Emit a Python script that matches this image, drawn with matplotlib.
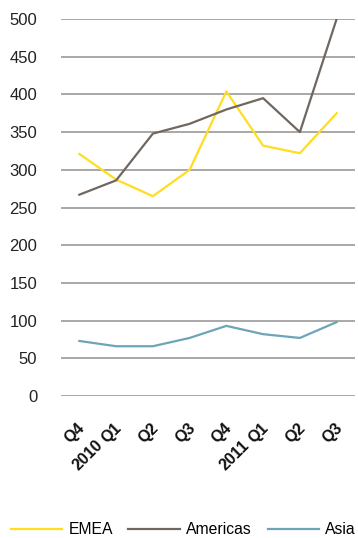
import matplotlib
matplotlib.use("Agg")
import matplotlib.pyplot as plt

# Quarterly figures by region
quarters = ["Q4\n2010", "Q1", "Q2", "Q3", "Q4\n2011", "Q1", "Q2", "Q3"]
emea = [321, 287, 265, 300, 404, 332, 322, 375]
americas = [267, 286, 348, 361, 380, 395, 350, 500]
asia = [73, 66, 66, 77, 93, 82, 77, 98]
y_ticks = [0, 50, 100, 150, 200, 250, 300, 350, 400, 450, 500]

plt.rcParams["font.family"] = ["Liberation Sans", "DejaVu Sans"]

fig = plt.figure(figsize=(3.58, 5.38), dpi=100)
ax = fig.add_axes([61 / 358, 1 - 396 / 538, 294 / 358, 377 / 538])

x = range(len(quarters))
ax.plot(x, emea, color="#FFDD1F", lw=1.6, label="EMEA", zorder=3)
ax.plot(x, americas, color="#706760", lw=1.6, label="Americas", zorder=3)
ax.plot(x, asia, color="#6EA4B8", lw=1.6, label="Asia", zorder=3)

ax.set_xlim(-0.5, len(quarters) - 0.5)
ax.set_ylim(0, 500)
ax.set_yticks(y_ticks)
ax.set_yticklabels([str(v) for v in y_ticks], fontsize=12, color="#222222")
ax.yaxis.grid(True, color="#999999", lw=1.2, zorder=1)
ax.set_axisbelow(True)
ax.tick_params(axis="y", length=0, pad=17)
ax.tick_params(axis="x", length=0, pad=0)
for s in ax.spines.values():
    s.set_visible(False)

ax.set_xticks(list(x))
ax.set_xticklabels([])
for i, q in enumerate(quarters):
    ax.annotate(q, xy=(i, 0), xycoords=("data", "axes fraction"),
                xytext=(-2, -24), textcoords="offset pixels",
                rotation=45, rotation_mode="anchor", ha="right", va="top",
                fontsize=11.5, fontweight="bold", color="#111111",
                multialignment="right", linespacing=1.8)

fig.legend(loc="center", bbox_to_anchor=(0.512, 1 - 530 / 538), ncol=3,
           frameon=False, fontsize=11.3, handlelength=3.3, handletextpad=0.38,
           columnspacing=1.0, borderaxespad=0, borderpad=0)

fig.savefig("out.png", dpi=100)
